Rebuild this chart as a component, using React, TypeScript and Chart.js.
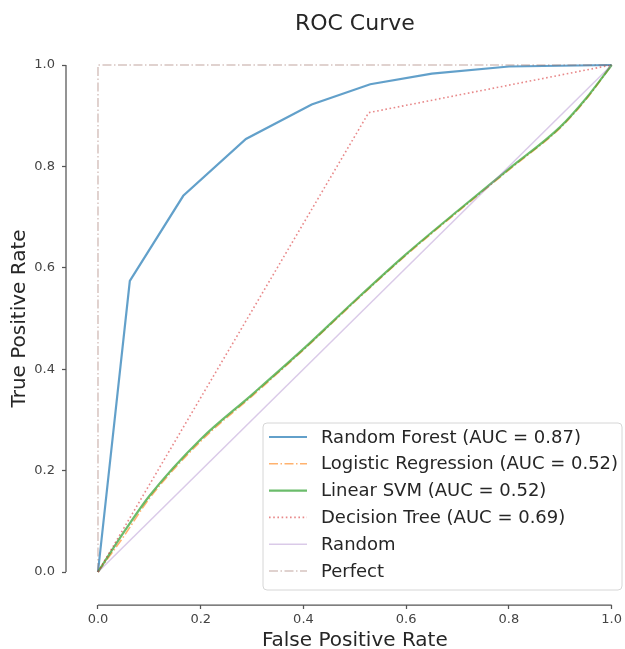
import React, { useEffect, useRef } from "react";
import { Chart, registerables } from "chart.js";

Chart.register(...registerables);

// ---- data ----
const titleText = "ROC Curve";
const xAxisLabel = "False Positive Rate";
const yAxisLabel = "True Positive Rate";
const tickValues = [0, 0.2, 0.4, 0.6, 0.8, 1.0];

const seriesLabels = [
  "Random Forest (AUC = 0.87)",
  "Logistic Regression (AUC = 0.52)",
  "Linear SVM (AUC = 0.52)",
  "Decision Tree (AUC = 0.69)",
  "Random",
  "Perfect",
];

const rfFpr = [0, 0.062, 0.166, 0.288, 0.416, 0.53, 0.65, 0.8, 1];
const rfTpr = [0, 0.574, 0.742, 0.854, 0.922, 0.962, 0.983, 0.997, 1];

const lrFpr = [0, 0.05, 0.1, 0.2, 0.3, 0.4, 0.5, 0.6, 0.7, 0.8, 0.9, 0.95, 1];
const lrTpr = [0, 0.07, 0.145, 0.258, 0.347, 0.438, 0.533, 0.625, 0.71, 0.793, 0.876, 0.932, 1];

const svmFpr = [0, 0.05, 0.1, 0.2, 0.3, 0.4, 0.5, 0.6, 0.7, 0.8, 0.9, 0.95, 1];
const svmTpr = [0, 0.078, 0.15, 0.262, 0.35, 0.44, 0.535, 0.627, 0.712, 0.795, 0.878, 0.934, 1];

const dtFpr = [0, 0.527, 1];
const dtTpr = [0, 0.906, 1];

const randFpr = [0, 1];
const randTpr = [0, 1];

const perfFpr = [0, 0, 1];
const perfTpr = [0, 1, 1];

// ---- styles ----
const FONT = "'DejaVu Sans', 'Liberation Sans', sans-serif";
const styles = [
  { color: "rgba(31,119,180,0.7)", width: 2.2, dash: [] as number[], smooth: false },
  { color: "rgba(255,127,14,0.6)", width: 1.6, dash: [9, 2.5, 1.5, 2.5], smooth: true },
  { color: "rgba(44,160,44,0.7)", width: 2.2, dash: [] as number[], smooth: true },
  { color: "rgba(214,39,40,0.55)", width: 1.6, dash: [1.6, 2.6], smooth: false },
  { color: "rgba(148,103,189,0.35)", width: 1.5, dash: [] as number[], smooth: false },
  { color: "rgba(140,86,75,0.35)", width: 1.5, dash: [9, 2.5, 1.5, 2.5], smooth: false },
];

const pairs = (xs: number[], ys: number[]) => xs.map((x, i) => ({ x, y: ys[i] }));
const allSeries = [
  pairs(rfFpr, rfTpr),
  pairs(lrFpr, lrTpr),
  pairs(svmFpr, svmTpr),
  pairs(dtFpr, dtTpr),
  pairs(randFpr, randTpr),
  pairs(perfFpr, perfTpr),
];

const decor = {
  id: "decor",
  afterDraw(chart: any) {
    const { ctx, chartArea } = chart;
    const x = chart.scales.x;
    const y = chart.scales.y;
    ctx.save();
    // spines (offset, spanning 0..1)
    ctx.strokeStyle = "#555";
    ctx.lineWidth = 1.25;
    ctx.setLineDash([]);
    ctx.beginPath();
    ctx.moveTo(chartArea.left, y.getPixelForValue(0));
    ctx.lineTo(chartArea.left, y.getPixelForValue(1));
    ctx.moveTo(x.getPixelForValue(0), chartArea.bottom);
    ctx.lineTo(x.getPixelForValue(1), chartArea.bottom);
    ctx.stroke();

    const cx = (x.getPixelForValue(0) + x.getPixelForValue(1)) / 2;
    const cy = (y.getPixelForValue(0) + y.getPixelForValue(1)) / 2;
    ctx.fillStyle = "#262626";
    ctx.textAlign = "center";
    ctx.textBaseline = "alphabetic";
    ctx.font = `22px ${FONT}`;
    ctx.fillText(titleText, cx, 30);
    ctx.font = `20px ${FONT}`;
    ctx.fillText(xAxisLabel, cx, 646);
    ctx.save();
    ctx.translate(25, cy);
    ctx.rotate(-Math.PI / 2);
    ctx.fillText(yAxisLabel, 0, 0);
    ctx.restore();

    // legend
    const bx = 263, by = 423, bw = 359, bh = 167, r = 4;
    ctx.beginPath();
    ctx.moveTo(bx + r, by);
    ctx.lineTo(bx + bw - r, by);
    ctx.quadraticCurveTo(bx + bw, by, bx + bw, by + r);
    ctx.lineTo(bx + bw, by + bh - r);
    ctx.quadraticCurveTo(bx + bw, by + bh, bx + bw - r, by + bh);
    ctx.lineTo(bx + r, by + bh);
    ctx.quadraticCurveTo(bx, by + bh, bx, by + bh - r);
    ctx.lineTo(bx, by + r);
    ctx.quadraticCurveTo(bx, by, bx + r, by);
    ctx.closePath();
    ctx.fillStyle = "rgba(255,255,255,0.85)";
    ctx.fill();
    ctx.strokeStyle = "#d6d6d6";
    ctx.lineWidth = 1;
    ctx.stroke();

    ctx.font = `18px ${FONT}`;
    ctx.textAlign = "left";
    ctx.textBaseline = "middle";
    seriesLabels.forEach((lab, i) => {
      const rowY = 437 + i * 26.8;
      const st = styles[i];
      ctx.strokeStyle = st.color;
      ctx.lineWidth = st.width;
      ctx.setLineDash(st.dash);
      ctx.beginPath();
      ctx.moveTo(269, rowY);
      ctx.lineTo(307, rowY);
      ctx.stroke();
      ctx.setLineDash([]);
      ctx.fillStyle = "#262626";
      ctx.fillText(lab, 321, rowY + 1);
    });
    ctx.restore();
  },
};

export default function App() {
  const ref = useRef<HTMLCanvasElement | null>(null);
  useEffect(() => {
    if (!ref.current) return;
    const chart = new Chart(ref.current, {
      type: "line",
      data: {
        datasets: allSeries.map((d, i) => ({
          label: seriesLabels[i],
          data: d,
          borderColor: styles[i].color,
          borderWidth: styles[i].width,
          borderDash: styles[i].dash,
          pointRadius: 0,
          fill: false,
          tension: 0,
          cubicInterpolationMode: styles[i].smooth ? "monotone" : "default",
          clip: false as any,
          order: 6 - i,
        })),
      },
      options: {
        responsive: false,
        animation: false,
        events: [],
        layout: { padding: { top: 65, right: 13, left: 0, bottom: 0 } },
        plugins: {
          legend: { display: false },
          title: { display: false },
          tooltip: { enabled: false },
        },
        scales: {
          x: {
            type: "linear",
            min: -32 / 514,
            max: 1,
            afterFit: (s: any) => {
              s.height = 44;
            },
            afterBuildTicks: (s: any) => {
              s.ticks = tickValues.map((v) => ({ value: v }));
            },
            ticks: {
              callback: (v: any) => Number(v).toFixed(1),
              font: { family: FONT, size: 13 },
              color: "#444",
              padding: 3,
              maxRotation: 0,
              autoSkip: false,
            },
            grid: {
              display: true,
              drawOnChartArea: false,
              drawTicks: true,
              tickLength: 4,
              tickColor: "#555",
              tickWidth: 1.25,
            },
            border: { display: false },
          },
          y: {
            type: "linear",
            min: -33 / 507,
            max: 1,
            afterFit: (s: any) => {
              s.width = 66;
            },
            afterBuildTicks: (s: any) => {
              s.ticks = tickValues.map((v) => ({ value: v }));
            },
            ticks: {
              callback: (v: any) => Number(v).toFixed(1),
              font: { family: FONT, size: 13 },
              color: "#444",
              padding: 7,
              autoSkip: false,
            },
            grid: {
              display: true,
              drawOnChartArea: false,
              drawTicks: true,
              tickLength: 4,
              tickColor: "#555",
              tickWidth: 1.25,
            },
            border: { display: false },
          },
        },
      },
      plugins: [decor],
    } as any);
    return () => chart.destroy();
  }, []);
  return (
    <div style={{ position: "fixed", left: 0, top: 0, width: 625, height: 649, background: "#fff" }}>
      <canvas ref={ref} width={625} height={649} style={{ display: "block", width: 625, height: 649 }} />
    </div>
  );
}
